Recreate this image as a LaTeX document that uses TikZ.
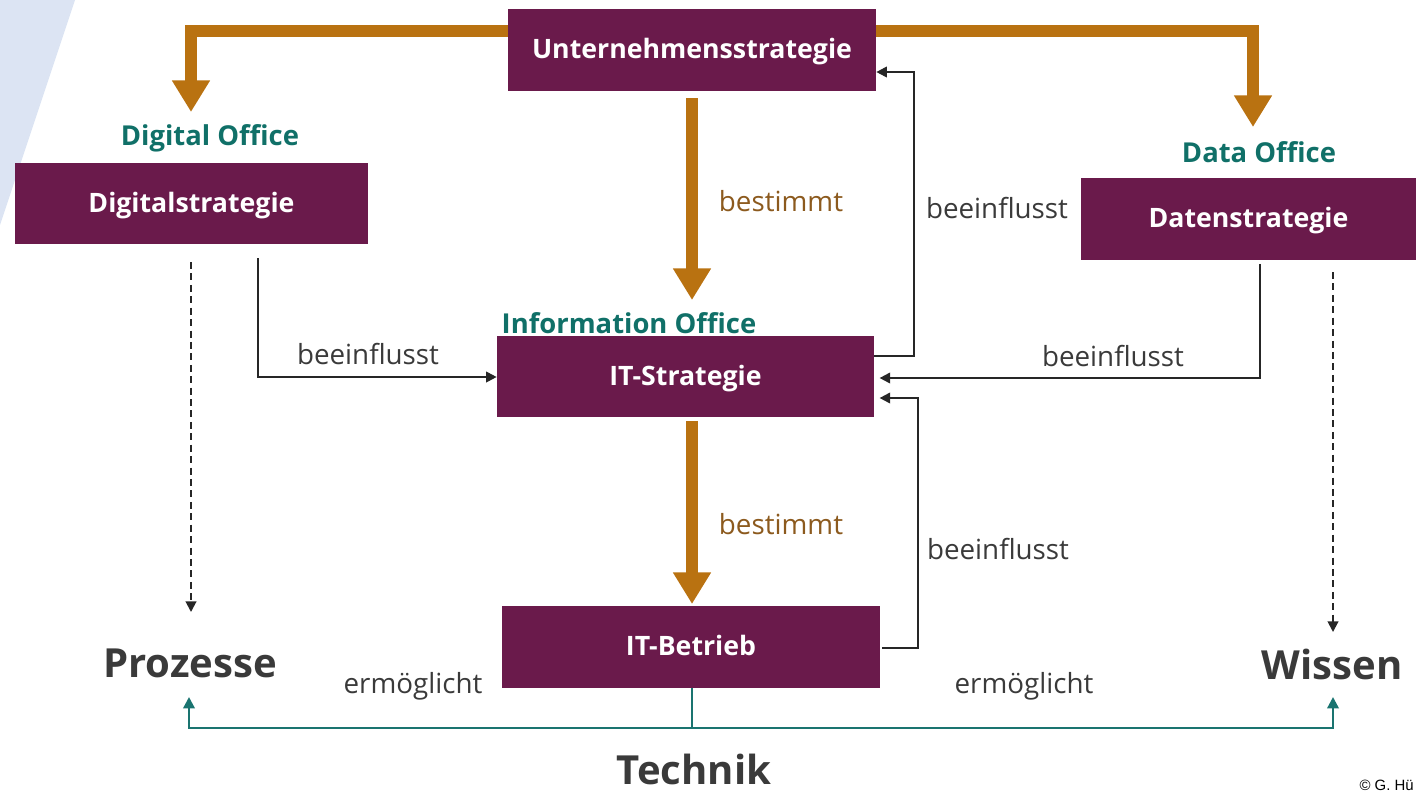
\documentclass[tikz,border=0pt]{standalone}
\usepackage{fontspec}
\setmainfont{Open Sans}
\newfontfamily\cpfont{Liberation Sans}
\usetikzlibrary{arrows.meta}
\definecolor{boxpurple}{HTML}{6A1A4B}
\definecolor{arrorange}{HTML}{B97211}
\definecolor{officeteal}{HTML}{107068}
\definecolor{lineteal}{HTML}{1A7470}
\definecolor{bestbrown}{HTML}{8C5A1E}
\definecolor{txtgray}{HTML}{3A3A3A}
\definecolor{bgblue}{HTML}{DCE4F3}
\tikzset{
  box/.style={fill=boxpurple, text=white, font=\bfseries\fontsize{15.2}{17}\selectfont, inner sep=0pt, text height=11pt, text depth=1pt},
  office/.style={text=officeteal, font=\bfseries\fontsize{15.6}{17}\selectfont, inner sep=0pt},
  lbl/.style={text=txtgray, font=\fontsize{15.8}{18}\selectfont, inner sep=0pt},
  best/.style={text=bestbrown, font=\fontsize{15.8}{18}\selectfont, inner sep=0pt},
  big/.style={text=txtgray, font=\bfseries\fontsize{22.8}{26}\selectfont, inner sep=0pt},
  oarrow/.style={draw=arrorange, line width=6.8pt, -{Triangle[width=20.5pt,length=18pt]}},
  karrow/.style={draw=black!85, line width=1.1pt, -{Triangle[width=6pt,length=6pt]}},
  darrow/.style={draw=black!85, line width=1.1pt, dash pattern=on 4pt off 2.5pt, -{Triangle[width=6pt,length=6pt]}},
  tarrow/.style={draw=lineteal, line width=1.4pt, -{Triangle[width=6.5pt,length=6.5pt]}},
  tline/.style={draw=lineteal, line width=1.4pt},
}
\begin{document}
\begin{tikzpicture}[x=0.02cm,y=-0.02cm]
\useasboundingbox (0,0) rectangle (1416,791);
\fill[bgblue] (0,0) -- (75,0) -- (0,225) -- cycle;

% boxes
\node[box, minimum width=7.36cm, minimum height=1.64cm] (U) at (692,50) {Unternehmensstrategie};
\node[box, minimum width=7.06cm, minimum height=1.62cm] (D) at (191.5,203.5) {Digitalstrategie};
\node[box, minimum width=6.7cm, minimum height=1.64cm] (Da) at (1248.5,219) {Datenstrategie};
\node[box, minimum width=7.54cm, minimum height=1.62cm] (S) at (685.5,376.5) {IT-Strategie};
\node[box, minimum width=7.56cm, minimum height=1.64cm] (B) at (691,647) {IT-Betrieb};

% office labels
\node[office] (DO) at (210,138) {Digital Office};
\node[office] (DaO) at (1259,152) {Data Office};
\node[office] (IO) at (629,323) {Information Office};

% bottom words
\node[big] (P) at (190,663) {Prozesse};
\node[big] (W) at (1332,664) {Wissen};
\node[big, anchor=base] (T) at (694,784) {Technik};

% free ends
\coordinate (dtip) at (191,112);
\coordinate (datip) at (1253,127);
\coordinate (stip) at (692,300);
\coordinate (btip) at (692,604);
\coordinate (rU) at (914,72);
\coordinate (rB) at (918,398);
\coordinate (dd) at (1260,378);
\coordinate (ld) at (258,377);
\coordinate (tj) at (692,728);
\coordinate (ptip) at (191,612);
\coordinate (wtip) at (1333,632);
\coordinate (ptip2) at (189,697);
\coordinate (wtip2) at (1333,697);

% orange arrows
\draw[oarrow] (U.west |- 0,31) -| (dtip);
\draw[oarrow] (U.east |- 0,31) -| (datip);
\draw[oarrow] ([yshift=-4pt]U.south -| stip) -- (stip);
\draw[oarrow] ([yshift=-2pt]S.south -| btip) -- (btip);
\node[best] (b1) at (781,201) {bestimmt};
\node[best] (b2) at (781,524) {bestimmt};

% black arrows
\draw[karrow] (S.east |- 0,356) -| (rU) -- (U.east |- rU);
\node[lbl] (l1) at (997,208) {beeinflusst};
\draw[karrow] ([yshift=-2pt]Da.south -| dd) |- ([xshift=3pt]S.east |- dd);
\node[lbl] (l2) at (1113,356) {beeinflusst};
\draw[karrow] ([xshift=1pt]B.east |- 0,648) -| (rB) -- ([xshift=3pt]S.east |- rB);
\node[lbl] (l3) at (998,549) {beeinflusst};
\draw[karrow] ([yshift=-8pt]D.south -| ld) |- (S.west |- ld);
\node[lbl] (l4) at (368,354) {beeinflusst};

% dashed
\draw[darrow] (191,262) -- (ptip);
\draw[darrow] (1333,272) -- (wtip);

% teal
\draw[tline] (B.south -| tj) -- (tj);
\draw[tarrow] (tj) -| (ptip2);
\draw[tarrow] (tj) -| (wtip2);
\node[lbl] (e1) at (413,686) {ermöglicht};
\node[lbl] (e2) at (1024,686) {ermöglicht};

% copyright
\node[anchor=east, inner sep=0pt, font=\cpfont\fontsize{8.5}{10}\selectfont] (cp) at (1414,785) {© G. Hü};
\end{tikzpicture}
\end{document}
